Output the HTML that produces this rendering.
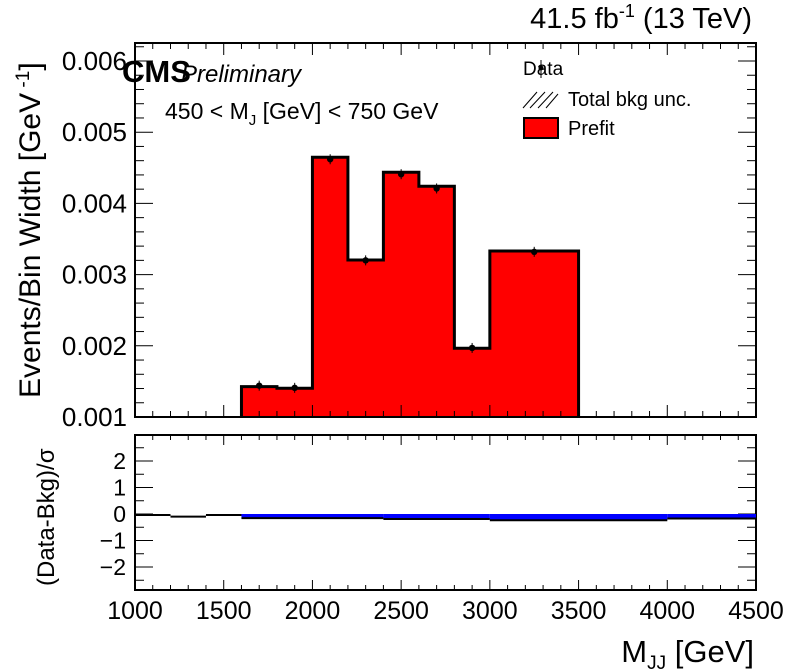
<!DOCTYPE html>
<html><head><meta charset="utf-8"><style>
body{margin:0;background:#fff}
svg{display:block;font-family:"Liberation Sans",Arial,sans-serif}
</style></head><body>
<svg id="c" width="796" height="672" viewBox="0 0 796 672"></svg>
<script>
const edges=[1600,1800,2000,2200,2400,2600,2800,3000,3500];
const prefit=[0.001426,0.001403,0.004648,0.003205,0.004437,0.00424,0.001965,0.003331];
const dataVals=[0.00144,0.00141,0.00462,0.00320,0.00441,0.00421,0.00197,0.00332];
const pullEdges=[1000,1200,1400,1600,2400,3000,4000,4500];
const pulls=[0,-0.06,0,-0.12,-0.15,-0.2,-0.13];
const yTicks=[0.001,0.002,0.003,0.004,0.005,0.006];
const yTickLabels=["0.001","0.002","0.003","0.004","0.005","0.006"];
const xTicks=[1000,1500,2000,2500,3000,3500,4000,4500];
const rTicks=[-2,-1,0,1,2];

const NS="http://www.w3.org/2000/svg";
const svg=document.getElementById('c');
function el(t,a,p){const e=document.createElementNS(NS,t);for(const k in a)e.setAttribute(k,a[k]);(p||svg).appendChild(e);return e;}
const L=135,R=756,T=43,B=417,RT=435,RB=590;
const X=v=>L+(v-1000)*(R-L)/3500;
const Y=v=>417-(v-0.001)*71.2*1000;
const RY=v=>514-v*26.5;

let fd=`M${X(edges[0])} ${B}`;
for(let i=0;i<prefit.length;i++){fd+=` L${X(edges[i])} ${Y(prefit[i])} L${X(edges[i+1])} ${Y(prefit[i])}`;}
fd+=` L${X(edges[edges.length-1])} ${B} Z`;
const fill=el('path',{d:fd,fill:'#ff0000',stroke:'none'});


let d=`M${X(edges[0])} ${B}`;
for(let i=0;i<prefit.length;i++){d+=` L${X(edges[i])} ${Y(prefit[i])} L${X(edges[i+1])} ${Y(prefit[i])}`;}
d+=` L${X(edges[edges.length-1])} ${B}`;
const ol=el('path',{d:d,fill:'none',stroke:'#000','stroke-width':3});


for(let i=0;i<dataVals.length;i++){
  const cx=(X(edges[i])+X(edges[i+1]))/2;
  const p=el('circle',{cx:cx,cy:Y(dataVals[i]),r:3.2,fill:'#000'});
  
  
  el('line',{x1:cx,x2:cx,y1:Y(dataVals[i])-5,y2:Y(dataVals[i])+5,stroke:'#000','stroke-width':1});
}
el('rect',{x:L,y:T,width:R-L,height:B-T,fill:'none',stroke:'#000','stroke-width':2});
el('rect',{x:L,y:RT,width:R-L,height:RB-RT,fill:'none',stroke:'#000','stroke-width':2});
for(let v=1000;v<=4500;v+=100){
  const maj=v%500===0, x=X(v);
  el('line',{x1:x,x2:x,y1:B,y2:B-(maj?12:6),stroke:'#000'});
  el('line',{x1:x,x2:x,y1:T,y2:T+(maj?12:6),stroke:'#000'});
  el('line',{x1:x,x2:x,y1:RB,y2:RB-(maj?10:5),stroke:'#000'});
  el('line',{x1:x,x2:x,y1:RT,y2:RT+(maj?10:5),stroke:'#000'});
}
xTicks.forEach(v=>{const t=el('text',{x:X(v),y:619,'font-size':25,'text-anchor':'middle'});t.textContent=v;
});
for(let k=0;k<=26;k++){const v=0.001+k*0.0002;const y=Y(v);if(y<T)break;const maj=k%5===0;
  el('line',{x1:L,x2:L+(maj?18:9),y1:y,y2:y,stroke:'#000'});
  el('line',{x1:R,x2:R-(maj?18:9),y1:y,y2:y,stroke:'#000'});}
yTicks.forEach((v,i)=>{const t=el('text',{x:127,y:Y(v)+9,'font-size':26,'text-anchor':'end'});t.textContent=yTickLabels[i];
});
for(let k=-2.5;k<=2.5;k+=0.5){const y=RY(k);const maj=Number.isInteger(k);
  el('line',{x1:L,x2:L+(maj?18:9),y1:y,y2:y,stroke:'#000'});
  el('line',{x1:R,x2:R-(maj?18:9),y1:y,y2:y,stroke:'#000'});}
rTicks.forEach(v=>{const t=el('text',{x:126,y:RY(v)+8,'font-size':23,'text-anchor':'end'});t.textContent=v<0?'\u2212'+(-v):v;
});
for(let i=0;i<pulls.length;i++){
  const x1=X(pullEdges[i]),x2=X(pullEdges[i+1]),y=RY(pulls[i]);
  if(pulls[i]!==0&&i>=3){const b=el('rect',{x:x1,y:Math.min(y,RY(0)),width:x2-x1,height:Math.abs(y-RY(0))+1,fill:'#0000ff'});
    }
  const l=el('line',{x1:x1,x2:x2,y1:y+1,y2:y+1,stroke:'#000','stroke-width':2});
  
}
</script>
<svg style="position:absolute;left:0;top:0" width="796" height="672">
<text x="752" y="28" font-size="29" text-anchor="end">41.5 fb<tspan dy="-11" font-size="18">-1</tspan><tspan dy="11"> (13 TeV)</tspan></text>
<text x="122" y="82" font-size="31" font-weight="bold">CMS</text>
<text x="181" y="82" font-size="24" font-style="italic">Preliminary</text>
<text x="165" y="119" font-size="23">450 &lt; M<tspan dy="6" font-size="15">J</tspan><tspan dy="-6"> [GeV] &lt; 750 GeV</tspan></text>
<text x="523" y="75" font-size="19">Data</text>
<line x1="541" x2="541" y1="60" y2="78" stroke="#000"/><circle cx="541" cy="68" r="2.5"/>
<g stroke="#000" stroke-width="1"><line x1="523" y1="108" x2="537" y2="92"/><line x1="530" y1="108" x2="545" y2="92"/><line x1="538" y1="108" x2="553" y2="92"/><line x1="546" y1="108" x2="558" y2="94"/></g>
<text x="568" y="106" font-size="20">Total bkg unc.</text>
<rect x="524" y="118" width="34" height="20" fill="#ff0000" stroke="#000" stroke-width="2"/>
<text x="568" y="135" font-size="20">Prefit</text>
<text transform="translate(40,398) rotate(-90)" font-size="30">Events/Bin Width [GeV<tspan dy="-11" font-size="19"> -1</tspan><tspan dy="11">]</tspan></text>
<text transform="translate(54,586) rotate(-90)" font-size="24">(Data-Bkg)/σ</text>
<text x="754" y="662" font-size="31" text-anchor="end">M<tspan dy="7" font-size="19">JJ</tspan><tspan dy="-7"> [GeV]</tspan></text>
</svg>
</body></html>
